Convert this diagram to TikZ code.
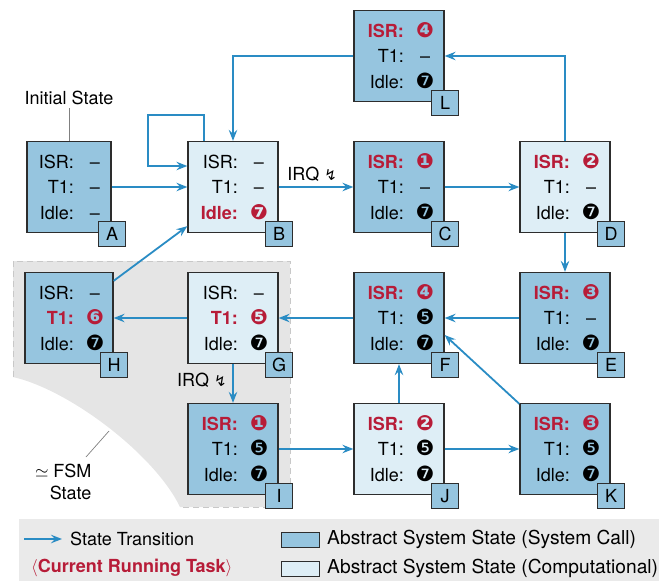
\documentclass[tikz,border=0pt]{standalone}
\usepackage{fontspec}
\setmainfont{TeX Gyre Heros}
\newfontfamily\symfont{DejaVu Sans}
\usetikzlibrary{arrows.meta,calc}

\definecolor{sysblue}{RGB}{150,197,223}
\definecolor{compblue}{RGB}{222,238,246}
\definecolor{flowblue}{RGB}{42,140,196}
\definecolor{taskred}{RGB}{183,28,56}
\definecolor{edge}{RGB}{45,45,45}
\definecolor{fsmgray}{RGB}{229,229,229}
\definecolor{fsmdash}{RGB}{200,200,200}
\definecolor{leggray}{RGB}{234,234,234}

\newcommand\bigf{\fontsize{18}{21}\selectfont}
\newcommand\legf{\fontsize{19.2}{22}\selectfont}
% negative circled digits
\newcommand\dg[1]{{\symfont\fontsize{21}{24}\selectfont #1}}
\newcommand\zap{{\symfont\fontsize{15}{16}\selectfont ↯}}

% one abstract system state: name, position, fill, then style/value for ISR, T1, Idle
\newcommand\fsmstate[9]{%
  \node[statebox,#3] (#1) at #2 {};
  \node[rowlbl,#4] (#1-isr)   at ($(#1.center)+(5,-19)$)  {ISR:};
  \node[rowval,#4] (#1-isrv)  at ($(#1.center)+(26,-19)$) {#5};
  \node[rowlbl,#6] (#1-t1)    at ($(#1.center)+(5,6.5)$)  {T1:};
  \node[rowval,#6] (#1-t1v)   at ($(#1.center)+(26,6.5)$) {#7};
  \node[rowlbl,#8] (#1-idle)  at ($(#1.center)+(5,32)$)   {Idle:};
  \node[rowval,#8] (#1-idlev) at ($(#1.center)+(26,32)$)  {#9};
  \node[tagbox] (#1-tag) at ($(#1.south east)+(0.5,1)$) {#1};
}

\begin{document}
\begin{tikzpicture}[x=1pt,y=-1pt,font=\bigf,
  statebox/.style={draw=edge,line width=1.3pt,minimum width=90pt,minimum height=91pt,inner sep=0pt},
  sys/.style={fill=sysblue},
  comp/.style={fill=compblue},
  tagbox/.style={draw=edge,fill=sysblue,line width=1.3pt,minimum width=27pt,minimum height=25pt,inner sep=0pt},
  rowlbl/.style={anchor=base east,inner sep=0pt},
  rowval/.style={anchor=base,inner sep=0pt},
  cold/.style={},
  hot/.style={text=taskred,font=\bigf\bfseries},
  trans/.style={draw=flowblue,line width=1.8pt,-{Stealth[length=11pt,width=8.5pt,inset=4pt]}},
  pointer/.style={draw=black!50,line width=0.7pt},
  swatch/.style={draw=edge,line width=1pt,minimum width=38pt,minimum height=15pt,inner sep=0pt},
]
\useasboundingbox (0,0) rectangle (672,581);

% region of states equivalent to one FSM state
\fill[fsmgray] (13,261) -- (290,261) -- (290,507) -- (180,507)
  .. controls (155,455) and (70,390) .. (13,377) -- cycle;
\draw[fsmdash,line width=1pt,dash pattern=on 6pt off 4pt]
  (13,377) -- (13,261) -- (290,261) -- (290,507) -- (180,507);

% states
\fsmstate{A}{(69,187)}{sys,minimum width=84pt}{cold}{–}{cold}{–}{cold}{–}
\fsmstate{B}{(233,187)}{comp}{cold}{–}{cold}{–}{hot}{\dg{❼}}
\fsmstate{C}{(399,187)}{sys}{hot}{\dg{❶}}{cold}{–}{cold}{\dg{❼}}
\fsmstate{D}{(565,187)}{comp}{hot}{\dg{❷}}{cold}{–}{cold}{\dg{❼}}
\fsmstate{L}{(399,56)}{sys}{hot}{\dg{❹}}{cold}{–}{cold}{\dg{❼}}
\fsmstate{E}{(565,318)}{sys}{hot}{\dg{❸}}{cold}{–}{cold}{\dg{❼}}
\fsmstate{F}{(399,318)}{sys}{hot}{\dg{❹}}{cold}{\dg{❺}}{cold}{\dg{❼}}
\fsmstate{G}{(233,318)}{comp}{cold}{–}{hot}{\dg{❺}}{cold}{\dg{❼}}
\fsmstate{H}{(69,318)}{sys,minimum width=88pt}{cold}{–}{hot}{\dg{❻}}{cold}{\dg{❼}}
\fsmstate{I}{(233,449)}{sys}{hot}{\dg{❶}}{cold}{\dg{❺}}{cold}{\dg{❼}}
\fsmstate{J}{(399,449)}{comp}{hot}{\dg{❷}}{cold}{\dg{❺}}{cold}{\dg{❼}}
\fsmstate{K}{(565,449)}{sys}{hot}{\dg{❸}}{cold}{\dg{❺}}{cold}{\dg{❼}}

% annotations
\node (init) at (69,98) {Initial State};
\draw[pointer] (init.south) -- (A.north);
\node[align=right,anchor=east,font=\fontsize{18}{22}\selectfont] (fsm) at (95,482)
  {$\simeq$ FSM\\State};
\coordinate (fsmP) at (86,457);
\coordinate (fsmQ) at (109,431);
\draw[pointer] (fsmP) -- (fsmQ);

% transitions
\coordinate (loopTL) at (148,115);
\draw[trans] (A) -- (B);
\draw[trans] ([xshift=-29pt]B.north) |- (loopTL) |- ([yshift=21pt]B.west);
\draw[trans] (L.west) -| (B.north);
\draw[trans] (B) -- node[above=1pt,pos=0.45] (irq1) {IRQ \zap} (C);
\draw[trans] (C) -- (D);
\draw[trans] (D.north) |- (L.east);
\draw[trans] (D) -- (E);
\draw[trans] (E) -- (F);
\draw[trans] (F) -- (G);
\draw[trans] (G) -- (H);
\draw[trans] ([yshift=-9pt]H.north east) -- ([yshift=7pt]B.south west);
\draw[trans] (G) -- node[left=2pt,pos=0.42] (irq2) {IRQ \zap} (I);
\draw[trans] (I) -- (J);
\draw[trans] (J) -- (K);
\draw[trans] (J) -- (F);
\draw[trans] ([yshift=-1pt]K.north west) -- ([yshift=-17pt]F.east);

% legend
\fill[leggray] (19,519) rectangle (659,581);
\coordinate (legS) at (24,539);
\coordinate (legE) at (62,539);
\draw[trans] (legS) -- (legE);
\node[anchor=west,inner sep=0pt] (legT) at (70,539) {State Transition};
\node[anchor=west,inner sep=0pt,text=taskred] (legR) at (31,568)
  {$\langle$\textbf{Current Running Task}$\rangle$};
\node[swatch,fill=sysblue] (sw1) at (300,539.5) {};
\node[swatch,fill=compblue] (sw2) at (300,569) {};
\node[anchor=west,inner sep=0pt,font=\legf] (sw1t) at (327,539)
  {Abstract System State (System Call)};
\node[anchor=west,inner sep=0pt,font=\legf] (sw2t) at (327,568)
  {Abstract System State (Computational)};
\end{tikzpicture}
\end{document}
